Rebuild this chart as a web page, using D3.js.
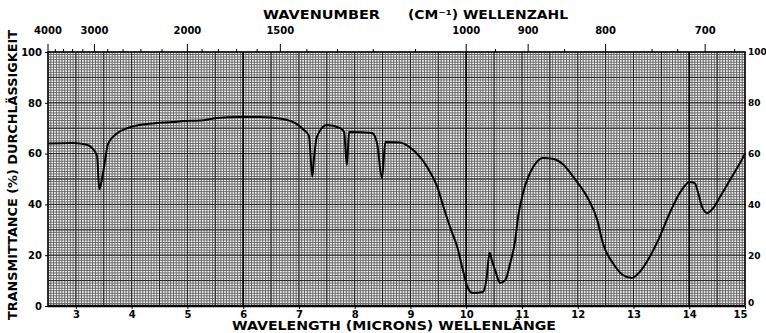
<!DOCTYPE html>
<html><head><meta charset="utf-8">
<script src="https://cdn.jsdelivr.net/npm/d3@7/dist/d3.min.js"></script>
<style>html,body{margin:0;padding:0;background:#fff;}svg{display:block;}</style>
</head><body>
<svg id="c" width="766" height="333"></svg>
<script>
// Data
const wavelength = [2.5,2.95,3.2,3.3,3.38,3.42,3.45,3.5,3.58,3.74,3.92,4.15,4.45,4.74,4.92,5.23,5.53,5.94,6.3,6.71,6.97,7.08,7.18,7.24,7.27,7.32,7.5,7.74,7.81,7.86,7.9,8.31,8.4,8.49,8.55,8.81,9.05,9.3,9.48,9.6,9.71,9.84,9.94,10.03,10.12,10.3,10.36,10.42,10.46,10.52,10.61,10.7,10.79,10.88,10.93,11.02,11.2,11.38,11.55,11.75,11.92,12.17,12.35,12.45,12.63,12.81,12.97,13.11,13.29,13.47,13.65,13.83,14.01,14.1,14.16,14.23,14.32,14.43,14.55,14.73,14.91,15.0];
const transmittance = [64,64.2,63.5,62,59,46,48,54,64,68,70,71.3,72,72.4,72.8,73,74,74.4,74.4,73.6,71.5,69.5,67,51,58,66.5,71.3,70,68.5,55.5,68.5,68.1,64.2,50.4,64.6,64.4,61.4,54.7,47,38.5,31.1,23.2,14.2,7.1,5.1,5.5,10,21,18,14,9.1,10.2,16.9,26,35,44.5,54.7,58.3,58,55.5,50.8,42.9,33.9,24.8,16.9,12.2,11,13.4,19.3,27.2,36.6,44.5,48.8,48.4,44.5,39,36.6,38.6,42.9,49.6,56.3,60];
const micronTicks = [3,4,5,6,7,8,9,10,11,12,13,14,15];
const wavenumberLabels = [4000,3000,2000,1500,1000,900,800,700];
const wavenumberMinor = [3800,3600,3400,3200,2800,2600,2400,2200,1900,1800,1700,1600,1400,1300,1200,1100,950,850,750,725,675];
const percentTicks = [0,20,40,60,80,100];

const svg = d3.select("#c");
const x = d3.scaleLinear().domain([2.5,15]).range([48,745]);
const y = d3.scaleLinear().domain([0,100]).range([306,52]);
const font = "'DejaVu Sans', sans-serif";

// fine chart-paper grid
const g = svg.append("g");
const vFine = d3.range(2.5, 15.001, 0.05);
g.selectAll("line.v").data(vFine).join("line")
  .attr("x1", d => x(d)).attr("x2", d => x(d))
  .attr("y1", y(100)).attr("y2", y(0))
  .attr("stroke", "#666").attr("stroke-width", 1);
const hFine = d3.range(0, 100.001, 1);
g.selectAll("line.h").data(hFine).join("line")
  .attr("x1", x(2.5)).attr("x2", x(15))
  .attr("y1", d => y(d)).attr("y2", d => y(d))
  .attr("stroke", "#666").attr("stroke-width", 1);
// heavier lines
g.selectAll("line.vm").data(d3.range(3, 15, 0.5)).join("line")
  .attr("x1", d => x(d)).attr("x2", d => x(d))
  .attr("y1", y(100)).attr("y2", y(0))
  .attr("stroke", "#222").attr("stroke-width", 1);
g.selectAll("line.hm").data(d3.range(10, 100, 10)).join("line")
  .attr("x1", x(2.5)).attr("x2", x(15))
  .attr("y1", d => y(d)).attr("y2", d => y(d))
  .attr("stroke", "#222").attr("stroke-width", 1);
g.selectAll("line.vh").data([6, 10, 14]).join("line")
  .attr("x1", d => x(d)).attr("x2", d => x(d))
  .attr("y1", y(100)).attr("y2", y(0))
  .attr("stroke", "#000").attr("stroke-width", 1.6);

// frame
svg.append("rect").attr("x", x(2.5)).attr("y", y(100))
  .attr("width", x(15) - x(2.5)).attr("height", y(0) - y(100))
  .attr("fill", "none").attr("stroke", "#000").attr("stroke-width", 1.5);
svg.append("line").attr("x1", x(2.5)).attr("x2", x(15)).attr("y1", y(0)).attr("y2", y(0))
  .attr("stroke", "#000").attr("stroke-width", 2.5);

// bottom axis (microns)
const bAxis = d3.axisBottom(x).tickValues(micronTicks).tickSize(3).tickFormat(d3.format("d"));
const ba = svg.append("g").attr("transform", `translate(0,${y(0)})`).call(bAxis);
ba.select(".domain").remove();
ba.selectAll("text").attr("font-family", font).attr("font-weight", "bold").attr("font-size", 10).attr("dy", "0.6em")
  .attr("dx", d => d === 15 ? -5 : 0);

// top axis (wavenumber)
const tx = d => x(10000 / d);
const ta = svg.append("g");
ta.selectAll("line.maj").data(wavenumberLabels).join("line")
  .attr("x1", tx).attr("x2", tx).attr("y1", y(100) - 8).attr("y2", y(100))
  .attr("stroke", "#000").attr("stroke-width", 1);
ta.selectAll("line.min").data(wavenumberMinor).join("line")
  .attr("x1", tx).attr("x2", tx).attr("y1", y(100) - 3).attr("y2", y(100))
  .attr("stroke", "#000").attr("stroke-width", 1);
ta.selectAll("text").data(wavenumberLabels).join("text")
  .attr("x", tx).attr("y", 34).attr("text-anchor", "middle")
  .attr("font-family", font).attr("font-weight", "bold").attr("font-size", 10)
  .text(d => d);

// left & right axes
const la = svg.append("g").attr("transform", `translate(${x(2.5)},0)`)
  .call(d3.axisLeft(y).tickValues(percentTicks).tickSize(3));
la.select(".domain").remove();
la.selectAll("text").attr("font-family", font).attr("font-weight", "bold").attr("font-size", 10);
const ra = svg.append("g").attr("transform", `translate(${x(15)},0)`)
  .call(d3.axisRight(y).tickValues(percentTicks).tickSize(1).tickPadding(2));
ra.select(".domain").remove();
ra.selectAll("text").attr("font-family", font).attr("font-weight", "bold").attr("font-size", 9)
  .attr("dy", d => d === 0 ? "-0.1em" : "0.32em");

// titles
svg.append("text").attr("x", 263).attr("y", 19).attr("textLength", 117).attr("lengthAdjust", "spacingAndGlyphs")
  .attr("font-family", font).attr("font-weight", "bold").attr("font-size", 12).text("WAVENUMBER");
svg.append("text").attr("x", 408).attr("y", 19).attr("textLength", 160).attr("lengthAdjust", "spacingAndGlyphs")
  .attr("font-family", font).attr("font-weight", "bold").attr("font-size", 12).text("(CM\u207B\u00B9) WELLENZAHL");
svg.append("text").attr("x", 232).attr("y", 330).attr("textLength", 324).attr("lengthAdjust", "spacingAndGlyphs")
  .attr("font-family", font).attr("font-weight", "bold").attr("font-size", 12).text("WAVELENGTH (MICRONS) WELLENLÄNGE");
svg.append("text").attr("transform", "translate(17,320) rotate(-90)").attr("textLength", 290).attr("lengthAdjust", "spacingAndGlyphs")
  .attr("font-family", font).attr("font-weight", "bold").attr("font-size", 12).text("TRANSMITTANCE (%) DURCHLÄSSIGKEIT");

// spectrum
const pts = wavelength.map((w, i) => [w, transmittance[i]]);
svg.append("path").datum(pts)
  .attr("d", d3.line().x(d => x(d[0])).y(d => y(d[1])).curve(d3.curveMonotoneX))
  .attr("fill", "none").attr("stroke", "#000").attr("stroke-width", 2);
</script>
</body></html>
